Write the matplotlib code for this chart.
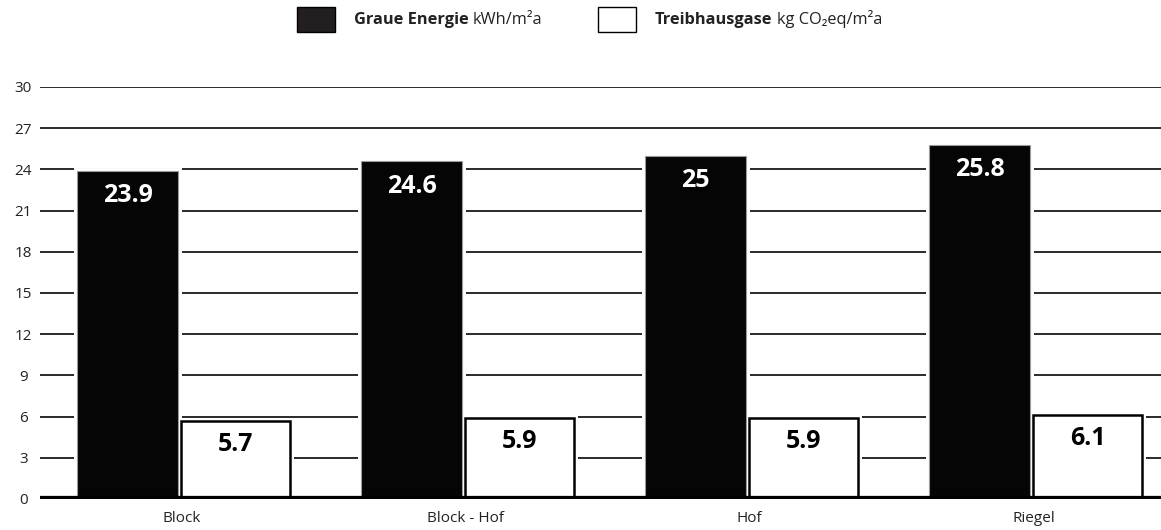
import matplotlib.pyplot as plt
import numpy as np
from matplotlib.offsetbox import AnchoredOffsetbox, DrawingArea, HPacker, TextArea
from matplotlib.patches import Rectangle

plt.rcParams['font.family'] = ['Open Sans', 'DejaVu Sans']

# Daten
kategorien = ['Block', 'Block - Hof', 'Hof', 'Riegel']
graue_energie = [23.9, 24.6, 25.0, 25.8]
treibhausgase = [5.7, 5.9, 5.9, 6.1]
y_ticks = [0, 3, 6, 9, 12, 15, 18, 21, 24, 27, 30]

fig = plt.figure(figsize=(11.61, 5.30), dpi=100)
ax = fig.add_axes([0.0345, 0.0585, 0.9655, 0.7775])

x = np.arange(len(kategorien))
breite_s = 0.356
breite_w = 0.383
versatz = 0.19

# weisser Rand um die Balken, damit die Gitterlinien kurz davor enden
ax.bar(x - versatz, graue_energie, breite_s, color='white', edgecolor='white',
       linewidth=5, zorder=1)
ax.bar(x + versatz, treibhausgase, breite_w, color='white', edgecolor='white',
       linewidth=5, zorder=1)
ax.bar(x - versatz, graue_energie, breite_s, color='#050505', edgecolor='#9a9a9a',
       linewidth=0.8, zorder=2)
ax.bar(x + versatz, treibhausgase, breite_w, color='white', edgecolor='black',
       linewidth=1.8, zorder=2)

# Werte in den Balken
for xi, v in zip(x, graue_energie):
    ax.annotate(f'{v:g}', (xi - versatz, v), xytext=(0, -9), textcoords='offset points',
                ha='center', va='top', color='white', fontsize=18, fontweight='bold', zorder=3)
for xi, v in zip(x, treibhausgase):
    ax.annotate(f'{v:g}', (xi + versatz, v), xytext=(0, -8), textcoords='offset points',
                ha='center', va='top', color='black', fontsize=18, fontweight='bold', zorder=3)

# Gitterlinien und Grundlinie
for t in y_ticks[1:]:
    ax.axhline(t, color='#2a2a2a', linewidth=1.4, zorder=0)
ax.axhline(0, color='black', linewidth=4.5, zorder=4)

ax.set_xlim(-0.498, 3.449)
ax.set_ylim(0, 30)
ax.set_yticks(y_ticks)
ax.set_xticks(x)
ax.set_xticklabels(kategorien)
ax.tick_params(axis='both', length=0, labelsize=11, colors='#222222')
ax.tick_params(axis='x', pad=9)
ax.tick_params(axis='y', pad=12)
for lbl in ax.get_yticklabels():
    lbl.set_horizontalalignment('center')
for s in ax.spines.values():
    s.set_visible(False)

# Legende (Groessen in Punkt)
def eintrag(farbe, fett, normal):
    da = DrawingArea(27, 18, 0, 0)
    da.add_artist(Rectangle((0, 0), 27, 18, facecolor=farbe, edgecolor='black', linewidth=1))
    t1 = TextArea(fett, textprops=dict(fontsize=11.8, fontweight='bold', color='#222222'))
    t2 = TextArea(normal, textprops=dict(fontsize=11.8, color='#222222'))
    return HPacker(children=[da, HPacker(children=[t1, t2], pad=0, sep=3)],
                   pad=0, sep=14, align='center')

leg = HPacker(children=[eintrag('#231f20', 'Graue Energie', 'kWh/m²a'),
                        eintrag('white', 'Treibhausgase', 'kg CO₂eq/m²a')],
              pad=0, sep=40, align='center')
box = AnchoredOffsetbox(loc='upper left', child=leg, frameon=False,
                        bbox_to_anchor=(297 / 1161, 1 - 7 / 530),
                        bbox_transform=fig.transFigure, borderpad=0, pad=0)
fig.add_artist(box)

fig.savefig('out.png', dpi=100)
